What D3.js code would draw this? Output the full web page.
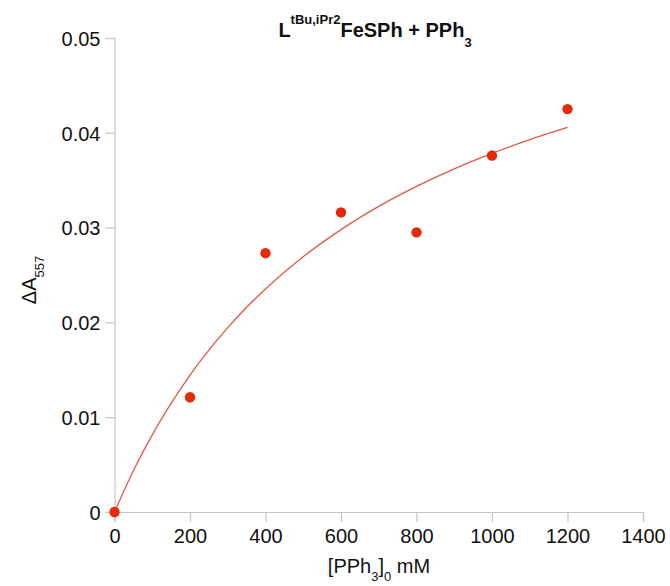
<!DOCTYPE html>
<html>
<head>
<meta charset="utf-8">
<script src="https://cdn.jsdelivr.net/npm/d3@7"></script>
<style>
  html, body { margin: 0; padding: 0; background: #fff; }
  svg { display: block; font-family: "Liberation Sans", Arial, sans-serif; }
</style>
</head>
<body>
<svg id="chart" width="670" height="586"></svg>
<script>
// Titration data: PPh3 concentration (mM) vs. absorbance change at 557 nm
const concentration = [0, 200, 400, 600, 800, 1000, 1200];
const deltaA = [0, 0.0121, 0.0273, 0.0316, 0.0295, 0.0376, 0.0425];

// Saturation fit curve, sampled along x
const fitX = [0, 50, 100, 200, 300, 400, 500, 600, 700, 800, 900, 1000, 1100, 1200];
const fitY = [0, 0.00435, 0.00814, 0.01444, 0.01945, 0.02353, 0.02693, 0.02979,
              0.03224, 0.03435, 0.03620, 0.03783, 0.03928, 0.04057];

const xTicks = [0, 200, 400, 600, 800, 1000, 1200, 1400];
const yTicks = [0, 0.01, 0.02, 0.03, 0.04, 0.05];

const svg = d3.select("#chart");
const margin = { left: 114.5, right: 27, top: 38, bottom: 74 };
const W = 670, H = 586;

const x = d3.scaleLinear().domain([0, 1400]).range([margin.left, W - margin.right]);
const y = d3.scaleLinear().domain([0, 0.05]).range([H - margin.bottom, margin.top]);

const axisColor = "#c4c4c4";

// x axis
const gx = svg.append("g")
  .attr("transform", `translate(0,${y(0)})`)
  .call(d3.axisBottom(x).tickValues(xTicks).tickSize(10).tickPadding(4).tickFormat(d3.format("d")));
// y axis
const gy = svg.append("g")
  .attr("transform", `translate(${x(0)},0)`)
  .call(d3.axisLeft(y).tickValues(yTicks).tickSize(9).tickPadding(5)
    .tickFormat(d => d === 0 ? "0" : d3.format(".2f")(d)));

[gx, gy].forEach(g => {
  g.select(".domain").attr("stroke", axisColor).attr("stroke-width", 1.2);
  g.selectAll(".tick line").attr("stroke", axisColor).attr("stroke-width", 1.2);
  g.selectAll(".tick text").attr("fill", "#111").style("font-size", "20px")
    .style("font-family", "'Liberation Sans', Arial, sans-serif");
});
gx.selectAll(".tick text").attr("dy", "0.85em");
gy.selectAll(".tick text").attr("dy", "0.36em");

// fit line
const line = d3.line().x((d, i) => x(fitX[i])).y(d => y(d)).curve(d3.curveMonotoneX);
svg.append("path")
  .datum(fitY)
  .attr("d", line)
  .attr("fill", "none")
  .attr("stroke", "#e05a44")
  .attr("stroke-width", 1.3);

// data points
svg.append("g").selectAll("circle")
  .data(concentration)
  .join("circle")
  .attr("cx", d => x(d))
  .attr("cy", (d, i) => y(deltaA[i]))
  .attr("r", 5.2)
  .attr("fill", "#e42a08");

// title
const title = svg.append("text")
  .attr("x", 375)
  .attr("y", 37)
  .attr("text-anchor", "middle")
  .style("font-weight", "bold")
  .style("font-size", "20px")
  .attr("fill", "#111");
title.append("tspan").text("L");
title.append("tspan").attr("dy", -13).style("font-size", "13px").text("tBu,iPr2");
title.append("tspan").attr("dy", 13).text("FeSPh + PPh");
title.append("tspan").attr("dy", 10).style("font-size", "13px").text("3");

// x axis label
const xl = svg.append("text")
  .attr("x", 379)
  .attr("y", 573)
  .attr("text-anchor", "middle")
  .style("font-size", "20px")
  .attr("fill", "#111");
xl.append("tspan").text("[PPh");
xl.append("tspan").attr("dy", 8).style("font-size", "13px").text("3");
xl.append("tspan").attr("dy", -8).text("]");
xl.append("tspan").attr("dy", 8).style("font-size", "13px").text("0");
xl.append("tspan").attr("dy", -8).text(" mM");

// y axis label
const yl = svg.append("text")
  .attr("transform", "translate(36,280) rotate(-90)")
  .attr("text-anchor", "middle")
  .style("font-size", "20px")
  .attr("fill", "#111");
yl.append("tspan").text("\u0394A");
yl.append("tspan").attr("dy", 8).style("font-size", "13px").text("557");
</script>
</body>
</html>
